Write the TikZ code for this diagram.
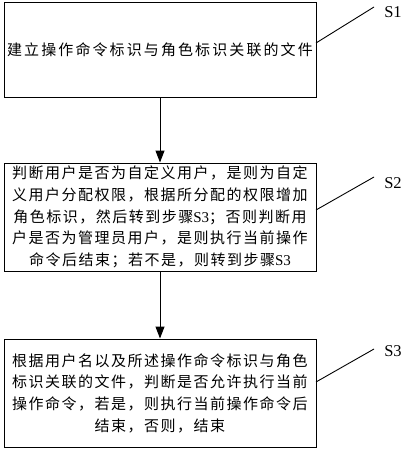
\documentclass[tikz,border=0pt]{standalone}
\usepackage{fontspec}
\setmainfont{Liberation Serif}
\newfontfamily\cjk[LetterSpace=10]{Noto Sans CJK SC}
\newfontfamily\cjkwide[LetterSpace=14]{Noto Sans CJK SC}
\usetikzlibrary{arrows.meta}
\begin{document}
\begin{tikzpicture}[x=1pt,y=-1pt,
  stepbox/.style={draw,line width=1pt,minimum width=312pt,inner sep=0pt,align=center,
    font=\fontsize{15}{21.7}\selectfont},
  flow/.style={line width=1pt,-{Triangle[length=12pt,width=9pt]}},
  leader/.style={line width=0.9pt},
  tag/.style={font=\fontsize{16.5}{18}\selectfont,inner sep=0pt}]
\useasboundingbox (0,0) rectangle (403,450);
\node[stepbox,minimum height=95pt] (b1) at (160,49.5) {\cjkwide 建立操作命令标识与角色标识关联的文件};
\node[stepbox,minimum height=108pt] (b2) at (160,217) {\cjk 判断用户是否为自定义用户，是则为自定\\
\cjk 义用户分配权限，根据所分配的权限增加\\
\cjk 角色标识，然后转到步骤\normalfont S3\cjk ；否则判断用\\
\cjk 户是否为管理员用户，是则执行当前操作\\
\cjk 命令后结束；若不是，则转到步骤\normalfont S3};
\node[stepbox,minimum height=108pt] (b3) at (160,393) {\cjk 根据用户名以及所述操作命令标识与角色\\
\cjk 标识关联的文件，判断是否允许执行当前\\
\cjk 操作命令，若是，则执行当前操作命令后\\
\cjk 结束，否则，结束};
\draw[flow] (b1) -- (b2);
\draw[flow] (b2) -- (b3);
\node[tag] (s1) at (393,12) {S1};
\node[tag] (s2) at (393,183) {S2};
\node[tag] (s3) at (393,351) {S3};
\coordinate (a1) at (316,43);
\coordinate (e1) at (374,7);
\coordinate (a2) at (316,210);
\coordinate (e2) at (374,177);
\coordinate (a3) at (316,382);
\coordinate (e3) at (374,349);
\draw[leader] (a1) -- (e1);
\draw[leader] (a2) -- (e2);
\draw[leader] (a3) -- (e3);
\end{tikzpicture}
\end{document}
